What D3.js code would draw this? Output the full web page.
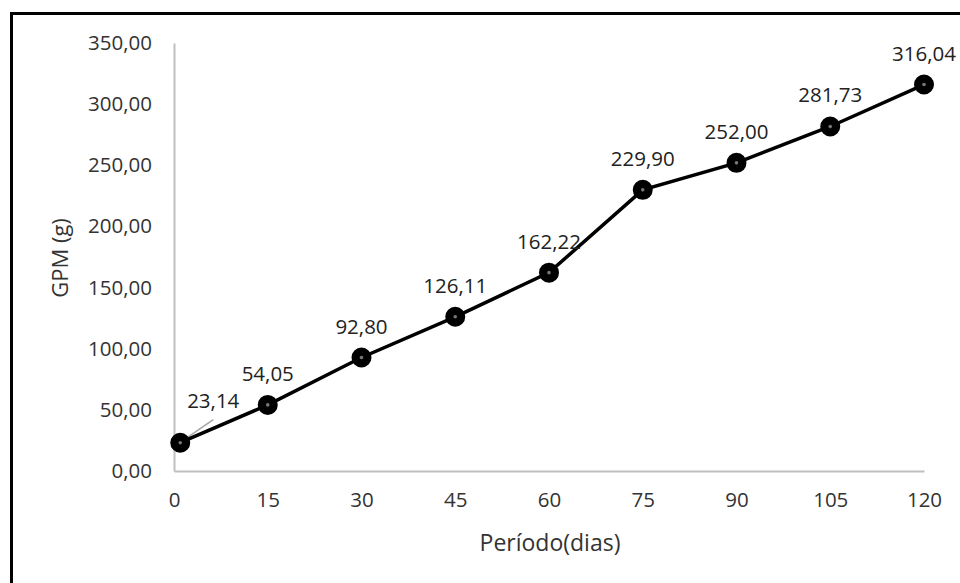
<!DOCTYPE html>
<html><head><meta charset="utf-8">
<script src="https://cdn.jsdelivr.net/npm/d3@7"></script>
<style>body{margin:0;background:#fff}svg{display:block}</style>
</head><body>
<script>
const days = [1, 15, 30, 45, 60, 75, 90, 105, 120];
const gpm = [23.14, 54.05, 92.80, 126.11, 162.22, 229.90, 252.00, 281.73, 316.04];
const xTicks = [0, 15, 30, 45, 60, 75, 90, 105, 120];
const yTicks = [0, 50, 100, 150, 200, 250, 300, 350];
const xTitle = "Período(dias)";
const yTitle = "GPM (g)";

const W = 960, H = 583;
const font = "'Open Sans', sans-serif";
const fmt = v => v.toFixed(2).replace(".", ",");
const svg = d3.select("body").append("svg").attr("width", W).attr("height", H);

svg.append("rect").attr("x", 11.5).attr("y", 13.5).attr("width", 1000).attr("height", 700)
  .attr("fill", "#fff").attr("stroke", "#000").attr("stroke-width", 3);

const x = d3.scaleLinear().domain([0, 120]).range([174, 924]);
const y = d3.scaleLinear().domain([0, 350]).range([471, 43]);

const yAxis = svg.append("g").attr("transform", "translate(174,0)")
  .call(d3.axisLeft(y).tickValues(yTicks).tickSize(0).tickPadding(22).tickFormat(fmt));
yAxis.select(".domain").attr("stroke", "#bfbfbf").attr("stroke-width", 2);
yAxis.selectAll("text").attr("font-family", font).attr("font-size", 20.5).attr("fill", "#333");

const xAxis = svg.append("g").attr("transform", "translate(0,471)")
  .call(d3.axisBottom(x).tickValues(xTicks).tickSize(0).tickPadding(21).tickFormat(d => d));
xAxis.select(".domain").attr("stroke", "#bfbfbf").attr("stroke-width", 2);
xAxis.selectAll("text").attr("font-family", font).attr("font-size", 20.5).attr("fill", "#333");

svg.append("text").attr("x", 550).attr("y", 551).attr("text-anchor", "middle")
  .attr("font-family", font).attr("font-size", 23).attr("fill", "#333").text(xTitle);
svg.append("text").attr("transform", "translate(68,258) rotate(-90)").attr("text-anchor", "middle")
  .attr("font-family", font).attr("font-size", 22).attr("fill", "#333").text(yTitle);

const pts = days.map((d, i) => ({ d, v: gpm[i] }));

// leader line for first label
svg.append("line")
  .attr("x1", x(pts[0].d) + 4).attr("y1", y(pts[0].v) - 3)
  .attr("x2", x(pts[0].d) + 33).attr("y2", y(pts[0].v) - 23)
  .attr("stroke", "#a6a6a6").attr("stroke-width", 1.5);

svg.append("path").datum(pts)
  .attr("d", d3.line().x(p => x(p.d)).y(p => y(p.v)))
  .attr("fill", "none").attr("stroke", "#000").attr("stroke-width", 3.5);

const m = svg.selectAll("g.mk").data(pts).join("g").attr("class", "mk")
  .attr("transform", p => `translate(${x(p.d)},${y(p.v)})`);
m.append("circle").attr("r", 8).attr("fill", "#000").attr("stroke", "#000").attr("stroke-width", 4);
m.append("circle").attr("r", 1.8).attr("fill", "#777");

svg.selectAll("text.lbl").data(pts).join("text").attr("class", "lbl")
  .attr("x", (p, i) => i === 0 ? x(p.d) + 33 : x(p.d))
  .attr("y", (p, i) => i === 0 ? y(p.v) - 35 : y(p.v) - 24)
  .attr("text-anchor", "middle")
  .attr("font-family", font).attr("font-size", 20.5).attr("fill", "#222")
  .text(p => fmt(p.v));
</script>
</body></html>
